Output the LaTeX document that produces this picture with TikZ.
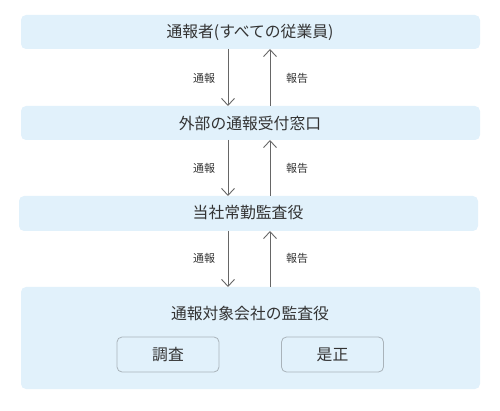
\documentclass[tikz,border=0pt]{standalone}
\usepackage{fontspec}
\setmainfont{Noto Sans CJK JP}
\usetikzlibrary{arrows.meta}
\definecolor{boxfill}{HTML}{E1F1FB}
\definecolor{txt}{HTML}{333333}
\definecolor{arr}{HTML}{666666}
\definecolor{inner}{HTML}{A9B3BA}
\tikzset{
  lvl/.style={fill=boxfill, rounded corners=5pt},
  ttl/.style={text=txt, font=\fontsize{15.8}{18}\selectfont, inner sep=0pt},
  lbl/.style={text=txt, font=\fontsize{11}{13}\selectfont, inner sep=0pt},
  sub/.style={draw=inner, fill=boxfill, rounded corners=5pt, line width=0.8pt, minimum width=102pt, minimum height=35pt, text=txt, font=\fontsize{15.8}{18}\selectfont, inner sep=0pt},
  conn/.style={draw=arr, line width=0.9pt, -{Straight Barb[length=7pt,width=13pt,line width=0.9pt]}}
}
\begin{document}
\begin{tikzpicture}[x=1pt,y=-1pt]
\useasboundingbox (0,0) rectangle (500,411);
% level boxes
\path[lvl] (21,15) rectangle (480,49);
\node[ttl] (b1) at (250,32) {通報者(すべての従業員)};
\coordinate (b1s) at (228,49); \coordinate (b1r) at (270,49);
\path[lvl] (21,106) rectangle (480,140);
\node[ttl] (b2) at (250,123) {外部の通報受付窓口};
\coordinate (b2n) at (228,106); \coordinate (b2rn) at (270,106);
\coordinate (b2s) at (228,140); \coordinate (b2r) at (270,140);
\path[lvl] (19,196) rectangle (478,231);
\node[ttl] (b3) at (248,213) {当社常勤監査役};
\coordinate (b3n) at (228,196); \coordinate (b3rn) at (270,196);
\coordinate (b3s) at (228,231); \coordinate (b3r) at (270,231);
\path[lvl] (21,287) rectangle (480,389);
\coordinate (b4n) at (228,287); \coordinate (b4rn) at (270,287);
\node[ttl] (b4) at (250,313) {通報対象会社の監査役};
\node[sub] (s1) at (168,354.5) {調査};
\node[sub] (s2) at (332.5,354.5) {是正};
% connectors
\draw[conn] (b1s) -- (b2n);
\draw[conn] (b2rn) -- (b1r);
\draw[conn] (b2s) -- (b3n);
\draw[conn] (b3rn) -- (b2r);
\draw[conn] (b3s) -- (b4n);
\draw[conn] (b4rn) -- (b3r);
% labels
\node[lbl] (l1) at (204,78) {通報};
\node[lbl] (r1) at (297,78) {報告};
\node[lbl] (l2) at (204,168) {通報};
\node[lbl] (r2) at (297,168) {報告};
\node[lbl] (l3) at (204,258) {通報};
\node[lbl] (r3) at (297,258) {報告};
\end{tikzpicture}
\end{document}
